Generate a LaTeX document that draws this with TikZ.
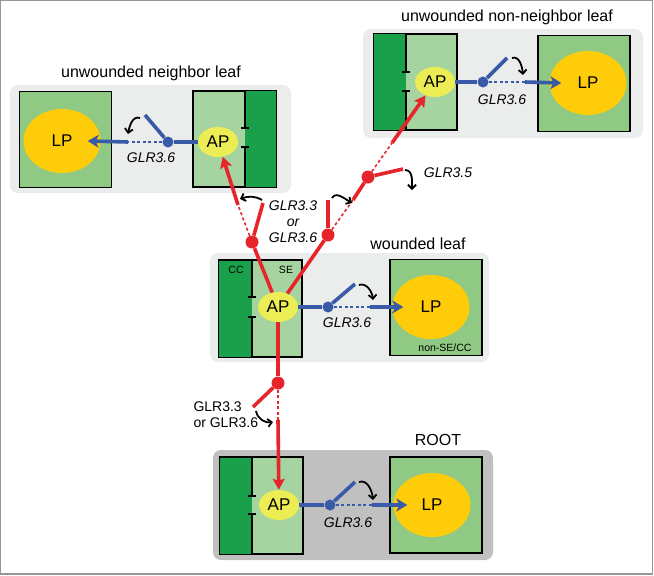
\documentclass[tikz,border=0pt]{standalone}
\usepackage{fontspec}
\setmainfont{Liberation Sans}
\usetikzlibrary{shapes.geometric, arrows.meta, positioning}

\definecolor{ccdark}{RGB}{26,160,75}
\definecolor{selight}{RGB}{166,212,160}
\definecolor{lpgreen}{RGB}{143,201,131}
\definecolor{lpyellow}{RGB}{255,204,10}
\definecolor{apyellow}{RGB}{236,236,84}
\definecolor{panelgray}{RGB}{235,236,236}
\definecolor{rootgray}{RGB}{192,192,192}
\definecolor{framegray}{RGB}{150,150,150}
\definecolor{glrblue}{RGB}{57,90,166}
\definecolor{glrred}{RGB}{230,37,43}

\begin{document}
\begin{tikzpicture}[
    x=1pt, y=1pt,
    panel/.style={rectangle, rounded corners=8pt, fill=panelgray, inner sep=0pt},
    cellbox/.style={rectangle, draw, line width=1.3pt, fill=selight, minimum width=83pt, minimum height=96pt, inner sep=0pt},
    ccbox/.style={rectangle, fill=ccdark, minimum height=96pt, inner sep=0pt},
    lpbox/.style={rectangle, draw, line width=1.3pt, fill=lpgreen, minimum width=92pt, minimum height=96pt, inner sep=0pt},
    lp/.style={ellipse, fill=lpyellow, minimum width=77pt, minimum height=64pt, inner sep=0pt, font=\fontsize{17}{17}\selectfont},
    ap/.style={ellipse, fill=apyellow, minimum width=40pt, minimum height=30pt, inner sep=0pt, font=\fontsize{17}{17}\selectfont},
    bdot/.style={circle, fill=glrblue, minimum size=11pt, inner sep=0pt},
    rdot/.style={circle, fill=glrred, minimum size=13pt, inner sep=0pt},
    bline/.style={glrblue, line width=3.6pt},
    bdash/.style={glrblue, line width=1.6pt, dash pattern=on 3pt off 2.5pt},
    barrow/.style={glrblue, line width=3.6pt, -{Stealth[length=11pt, width=13pt, inset=3pt]}},
    rline/.style={glrred, line width=3.6pt},
    rdash/.style={glrred, line width=1.6pt, dash pattern=on 3pt off 2.5pt},
    rarrow/.style={glrred, line width=3.6pt, -{Stealth[length=11pt, width=12pt, inset=2pt]}},
    wall/.style={line width=1.3pt},
    turn/.style={line width=1.8pt, -{Straight Barb[length=4pt, width=8pt]}},
    glr/.style={font=\itshape\fontsize{14}{16}\selectfont},
    title/.style={font=\fontsize{16}{16}\selectfont},
    small/.style={font=\fontsize{10.5}{11}\selectfont, inner sep=0pt}
]
    \useasboundingbox (0,0) rectangle (654,-576);
    \draw[framegray, line width=1.4pt] (0.7,-0.7) rectangle (652.3,-573.8);

    % leaf and root panels
    \node[panel, minimum width=281pt, minimum height=108pt] (pN) at (150.5,-139) {};
    \node[panel, minimum width=280pt, minimum height=109pt] (pF) at (503,-83.5) {};
    \node[panel, minimum width=279pt, minimum height=109pt] (pW) at (349.5,-307.5) {};
    \node[panel, fill=rootgray, minimum width=280pt, minimum height=110pt] (pR) at (353,-505) {};

    \node[title] (tN) at (151,-73) {unwounded neighbor leaf};
    \node[title] (tF) at (507,-17) {unwounded non-neighbor leaf};
    \node[title] (tW) at (418,-244) {wounded leaf};
    \node[title] (tR) at (438,-440) {ROOT};

    % SE/CC complexes
    \node[cellbox] (cN) at (234.5,-139) {};
    \node[ccbox, minimum width=31pt] (ccN) at (260.5,-139) {};
    \node[cellbox] (cF) at (415.5,-82) {};
    \node[ccbox, minimum width=32pt] (ccF) at (390,-82) {};
    \node[cellbox] (cW) at (260.5,-308.5) {};
    \node[ccbox, minimum width=33pt] (ccW) at (235.5,-308.5) {};
    \node[cellbox] (cR) at (261.5,-505.5) {};
    \node[ccbox, minimum width=32pt] (ccR) at (236,-505.5) {};
    \draw[wall] (cN.north west) rectangle (cN.south east);
    \draw[wall] (cF.north west) rectangle (cF.south east);
    \draw[wall] (cW.north west) rectangle (cW.south east);
    \draw[wall] (cR.north west) rectangle (cR.south east);

    % cell walls with plasmodesmata
    \draw[wall] (245,-91) -- (245,-128) (241,-128) -- (249,-128)
                (245,-187) -- (245,-147) (241,-147) -- (249,-147);
    \draw[wall] (406,-34) -- (406,-72) (402,-72) -- (410,-72)
                (406,-130) -- (406,-91) (402,-91) -- (410,-91);
    \draw[wall] (252,-260.5) -- (252,-297) (248,-297) -- (256,-297)
                (252,-356.5) -- (252,-317) (248,-317) -- (256,-317);
    \draw[wall] (252,-457.5) -- (252,-496) (248,-496) -- (256,-496)
                (252,-553.5) -- (252,-514) (248,-514) -- (256,-514);

    \node[small] (cc) at (236,-270) {CC};
    \node[small] (se) at (286,-270) {SE};

    % LP cells
    \node[lpbox] (bN) at (65.5,-139.5) {};
    \node[lpbox] (bF) at (584,-83.5) {};
    \node[lpbox] (bW) at (436,-307.5) {};
    \node[lpbox] (bR) at (436,-505) {};
    \node[small] (nonse) at (445,-348) {non-SE/CC};

    \node[lp] (lpN) at (62,-141) {LP};
    \node[lp] (lpF) at (588,-83) {LP};
    \node[lp] (lpW) at (431,-307) {LP};
    \node[lp] (lpR) at (432,-505) {LP};

    \node[ap] (apN) at (218,-142) {AP};
    \node[ap] (apF) at (435,-82) {AP};
    \node[ap] (apW) at (278,-307) {AP};
    \node[ap] (apR) at (279,-505) {AP};

    % GLR3.6 switches to LP
    \node[bdot] (sN) at (168,-142) {};
    \coordinate (armN) at (145,-115);
    \coordinate (gapN) at (128,-142);
    \draw[bline] (apN) -- (sN);
    \draw[bline] (sN) -- (armN);
    \draw[bdash] (sN) -- (gapN);
    \draw[barrow] (gapN) -- ([xshift=-13pt]lpN.east);
    \draw[turn] (140,-118) to[out=160, in=80] (128,-134);
    \node[glr] (gN) at (151,-158) {GLR3.6};

    \node[bdot] (sF) at (483,-82) {};
    \coordinate (armF) at (507,-58);
    \coordinate (gapF) at (525,-82);
    \draw[bline] (apF) -- (sF);
    \draw[bline] (sF) -- (armF);
    \draw[bdash] (sF) -- (gapF);
    \draw[barrow] (gapF) -- ([xshift=12pt]lpF.west);
    \draw[turn] (512,-58) to[out=20, in=95] (523,-75);
    \node[glr] (gF) at (502,-100) {GLR3.6};

    \node[bdot] (sW) at (328,-307) {};
    \coordinate (armW) at (355,-284);
    \coordinate (gapW) at (370,-307);
    \draw[bline] (apW) -- (sW);
    \draw[bline] (sW) -- (armW);
    \draw[bdash] (sW) -- (gapW);
    \draw[barrow] (gapW) -- ([xshift=11pt]lpW.west);
    \draw[turn] (359,-285) to[out=20, in=95] (373,-300);
    \node[glr] (gW) at (347,-323) {GLR3.6};

    \node[bdot] (sR) at (330,-505) {};
    \coordinate (armR) at (355,-482);
    \coordinate (gapR) at (372,-505);
    \draw[bline] (apR) -- (sR);
    \draw[bline] (sR) -- (armR);
    \draw[bdash] (sR) -- (gapR);
    \draw[barrow] (gapR) -- ([xshift=14pt]lpR.west);
    \draw[turn] (359,-482) to[out=20, in=95] (373,-500);
    \node[glr] (gR) at (348,-523) {GLR3.6};

    % AP transmission, wounded leaf to root
    \node[rdot] (rA) at (278,-383) {};
    \coordinate (armA) at (253,-407);
    \coordinate (gapA) at (278,-420);
    \draw[rline] (apW) -- (rA);
    \draw[rline] (rA) -- (armA);
    \draw[rdash] (rA) -- (gapA);
    \draw[rarrow] (gapA) -- (apR);
    \draw[turn] (256,-411) to[out=-80, in=190] (273,-422);
    \node[font=\fontsize{14}{16}\selectfont, align=left, anchor=west] (gA) at (190,-415) {GLR3.3\\or GLR3.6};

    % wounded leaf to neighbor leaf
    \node[rdot] (rB) at (252,-242) {};
    \coordinate (armB) at (263,-203);
    \coordinate (gapB) at (238,-205);
    \draw[rline] (apW) -- (rB);
    \draw[rline] (rB) -- (armB);
    \draw[rdash] (rB) -- (gapB);
    \draw[rarrow] (gapB) -- (apN);
    \draw[turn] (262,-200) to[out=150, in=20] (240,-199);

    % wounded leaf to non-neighbor leaf
    \node[rdot] (rC) at (328,-235) {};
    \coordinate (armC) at (328,-200);
    \coordinate (gapC) at (353,-200);
    \draw[rline] (apW) -- (rC);
    \draw[rline] (rC) -- (armC);
    \draw[rdash] (rC) -- (gapC);
    \node[rdot] (rD) at (368,-177) {};
    \draw[rline] (gapC) -- (rD);
    \coordinate (armD) at (403,-169);
    \coordinate (gapD) at (392,-143);
    \draw[rline] (rD) -- (armD);
    \draw[rdash] (rD) -- (gapD);
    \draw[rarrow] (gapD) -- (apF);
    \draw[turn] (332,-198) to[out=60, in=150] (352,-203);
    \draw[turn] (405,-170) to[out=0, in=90] (412,-190);
    \node[glr, align=center] (gC) at (293,-222) {GLR3.3\\or\\GLR3.6};
    \node[glr] (gD) at (448,-173) {GLR3.5};
\end{tikzpicture}
\end{document}
